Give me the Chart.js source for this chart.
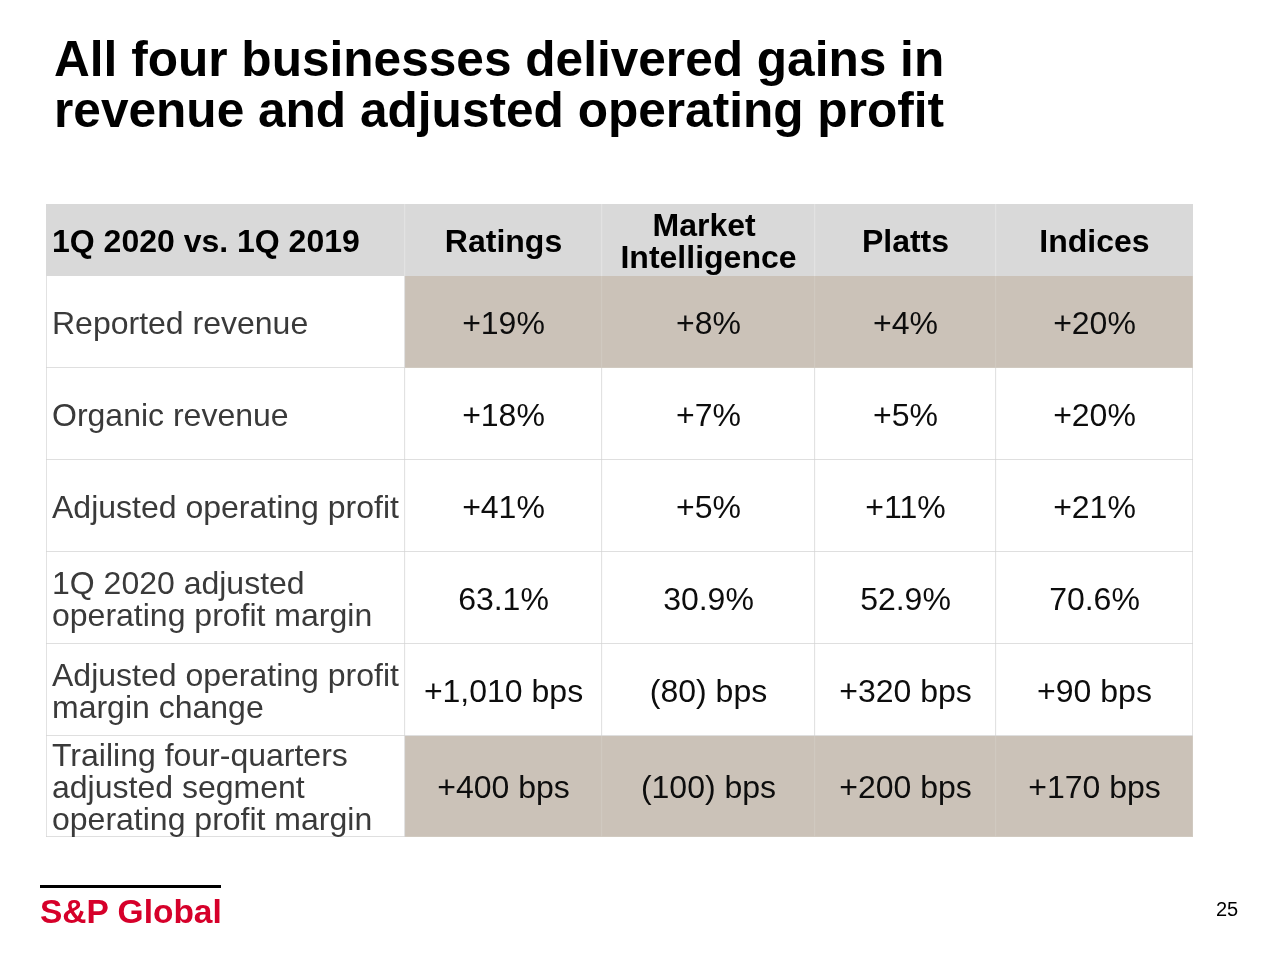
<!DOCTYPE html>
<html>
<head>
<meta charset="utf-8">
<title>All four businesses delivered gains</title>
<script src="https://cdn.jsdelivr.net/npm/chart.js@4/dist/chart.umd.min.js"></script>
<style>
  body { margin: 0; background: #fff; font-family: "Liberation Sans", Arial, sans-serif; }
  #page { position: relative; width: 1280px; height: 960px; overflow: hidden; }
  #table { position: absolute; left: 0; top: 0; }
  h1 {
    position: absolute; left: 54px; top: 34px; margin: 0;
    font-size: 49.6px; line-height: 51px; font-weight: bold; color: #000;
  }
  .logo-rule { position: absolute; left: 40px; top: 885px; width: 181px; height: 3px; background: #000; }
  .logo {
    position: absolute; left: 40px; top: 895px;
    font-size: 33.5px; line-height: 33px; font-weight: bold; color: #d6002a;
  }
  .page-no { position: absolute; left: 1216px; top: 899px; font-size: 20px; line-height: 20px; color: #000; }
</style>
</head>
<body>
<div id="page">
  <canvas id="table" width="1280" height="960"></canvas>
  <h1>All four businesses delivered gains in<br>revenue and adjusted operating profit</h1>
  <div class="logo-rule"></div>
  <div class="logo">S&amp;P Global</div>
  <div class="page-no">25</div>
</div>
<script>
const cornerLabel = "1Q 2020 vs. 1Q 2019";
const businesses = [["Ratings"], ["Market ", "Intelligence"], ["Platts"], ["Indices"]];
const metrics = [
  ["Reported revenue"],
  ["Organic revenue"],
  ["Adjusted operating profit"],
  ["1Q 2020 adjusted", "operating profit margin"],
  ["Adjusted operating profit", "margin change"],
  ["Trailing four-quarters", "adjusted segment", "operating profit margin"],
];
const ratings = ["+19%", "+18%", "+41%", "63.1%", "+1,010 bps", "+400 bps"];
const marketIntelligence = ["+8%", "+7%", "+5%", "30.9%", "(80) bps", "(100) bps"];
const platts = ["+4%", "+5%", "+11%", "52.9%", "+320 bps", "+200 bps"];
const indices = ["+20%", "+20%", "+21%", "70.6%", "+90 bps", "+170 bps"];
const highlightedMetrics = [0, 5]; // shaded rows (business cells only)

// Layout of the grid, in scale units (1 unit = 1px of chart area)
const COL_EDGES = [0, 359, 556, 769, 950, 1147];
const ROW_EDGES = [0, 72, 164, 256, 348, 440, 532, 633];

const HEADER_FILL = "#d9d9d9";
const SHADE_FILL = "#cbc2b8";
const PLAIN_FILL = "#ffffff";

// Each column: its header lines followed by one entry (list of lines) per metric
const columns = [
  [[cornerLabel], ...metrics],
  ...[ratings, marketIntelligence, platts, indices].map((values, i) => [
    businesses[i],
    ...values.map((v) => [v]),
  ]),
];

function cellFill(row, col) {
  if (row === 0) return HEADER_FILL;
  if (col > 0 && highlightedMetrics.includes(row - 1)) return SHADE_FILL;
  return PLAIN_FILL;
}

function cellBorderColor(row, col) {
  const fill = cellFill(row, col);
  if (fill === HEADER_FILL) return "#e6e6e6";
  if (fill === SHADE_FILL) return "#d3ccc3";
  return "#d4d4d4";
}

function cellBorderWidth(row, col) {
  const last = col === columns.length - 1;
  if (row === 0) return { top: 0, left: 0, bottom: 0, right: last ? 0 : 1 };
  return { top: 0, left: col === 0 ? 1 : 0, bottom: 1, right: 1 };
}

const datasets = columns.map((cells, c) => ({
  label: cells[0].join(" ").trim(),
  data: cells.map((_, r) => ({
    x: (COL_EDGES[c] + COL_EDGES[c + 1]) / 2,
    y: [ROW_EDGES[r], ROW_EDGES[r + 1]],
  })),
  backgroundColor: (ctx) => cellFill(ctx.dataIndex, c),
  borderColor: (ctx) => cellBorderColor(ctx.dataIndex, c),
  borderWidth: (ctx) => cellBorderWidth(ctx.dataIndex, c),
  borderSkipped: false,
  barThickness: COL_EDGES[c + 1] - COL_EDGES[c],
  grouped: false,
}));

const FONT_FAMILY = '"Liberation Sans", Arial, sans-serif';
const FONT_SIZE = 32;
const LINE_HEIGHT = 32;

// Writes the text of each cell at the cell position given by the scales
const cellText = {
  id: "cellText",
  afterDatasetsDraw(chart) {
    const { ctx } = chart;
    const { x, y } = chart.scales;
    ctx.save();
    ctx.textBaseline = "alphabetic";
    columns.forEach((cells, c) => {
      cells.forEach((lines, r) => {
        const isHeader = r === 0;
        const alignLeft = c === 0;
        ctx.font = `${isHeader ? "bold " : ""}${FONT_SIZE}px ${FONT_FAMILY}`;
        ctx.fillStyle = isHeader ? "#000000" : alignLeft ? "#3a3a3a" : "#0d0d0d";
        ctx.textAlign = alignLeft ? "left" : "center";
        const px = alignLeft
          ? x.getPixelForValue(COL_EDGES[c]) + 6
          : x.getPixelForValue((COL_EDGES[c] + COL_EDGES[c + 1]) / 2);
        const cy = y.getPixelForValue((ROW_EDGES[r] + ROW_EDGES[r + 1]) / 2);
        lines.forEach((text, i) => {
          const offset = (i - (lines.length - 1) / 2) * LINE_HEIGHT;
          ctx.fillText(text, px, cy + offset + FONT_SIZE * 0.36);
        });
      });
    });
    ctx.restore();
  },
};

new Chart(document.getElementById("table"), {
  type: "bar",
  data: { datasets },
  options: {
    indexAxis: "x",
    responsive: false,
    animation: false,
    events: [],
    layout: { padding: { left: 46, top: 204, right: 87, bottom: 123 } },
    scales: {
      x: {
        type: "linear",
        offset: false,
        min: COL_EDGES[0],
        max: COL_EDGES[COL_EDGES.length - 1],
        display: false,
      },
      y: {
        type: "linear",
        min: ROW_EDGES[0],
        max: ROW_EDGES[ROW_EDGES.length - 1],
        reverse: true,
        display: false,
      },
    },
    plugins: {
      legend: { display: false },
      tooltip: { enabled: false },
    },
  },
  plugins: [cellText],
});
</script>
</body>
</html>
